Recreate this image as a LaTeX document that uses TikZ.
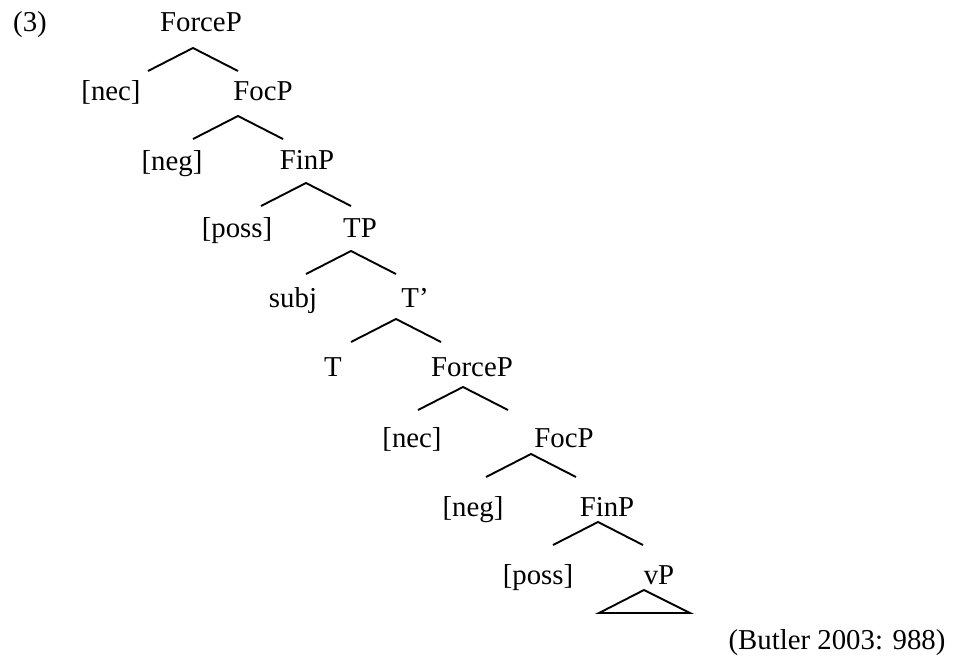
\documentclass[tikz,border=0pt]{standalone}
\usepackage{fontspec}
\setmainfont{Liberation Serif}
\begin{document}
\begin{tikzpicture}[x=1pt,y=-1pt,
  lbl/.style={anchor=base,inner sep=0pt,font=\fontsize{28.8}{34}\selectfont},
  branch/.style={line width=1.9pt,line join=miter}]
\useasboundingbox (0,0) rectangle (955,659);
% labels
\node[lbl] (ex) at (30,31) {(3)};
\node[lbl] (force1) at (201,31) {ForceP};
\node[lbl] (nec1) at (111,100) {[nec]};
\node[lbl] (foc1) at (263,100) {FocP};
\node[lbl] (neg1) at (172,170) {[neg]};
\node[lbl] (fin1) at (307,169) {FinP};
\node[lbl] (poss1) at (237,237) {[poss]};
\node[lbl] (tp) at (360,237) {TP};
\node[lbl] (subj) at (293,307) {subj};
\node[lbl] (tbar) at (415,307) {T’};
\node[lbl] (t) at (333,376) {T};
\node[lbl] (force2) at (472,376) {ForceP};
\node[lbl] (nec2) at (412,447) {[nec]};
\node[lbl] (foc2) at (564,447) {FocP};
\node[lbl] (neg2) at (473,516) {[neg]};
\node[lbl] (fin2) at (607,516) {FinP};
\node[lbl] (poss2) at (538,584) {[poss]};
\node[lbl] (vp) at (659,584) {vP};
\node[lbl] (src) at (837,649) {(Butler 2003: 988)};
% branch points
\foreach \n/\x/\y in {a/193/48, b/238/116, c/306/183, d/351/251, e/396/319, f/463/387, g/531/454, h/598/522}{
  \coordinate (\n top) at (\x,\y);
  \coordinate (\n l) at (\x-45,\y+23);
  \coordinate (\n r) at (\x+45,\y+23);
  \draw[branch] (\n l) -- (\n top) -- (\n r);
}
\coordinate (vtop) at (644,590);
\coordinate (vl) at (599,613);
\coordinate (vr) at (690,613);
\draw[branch] (vl) -- (vtop) -- (vr) -- cycle;
\end{tikzpicture}
\end{document}
